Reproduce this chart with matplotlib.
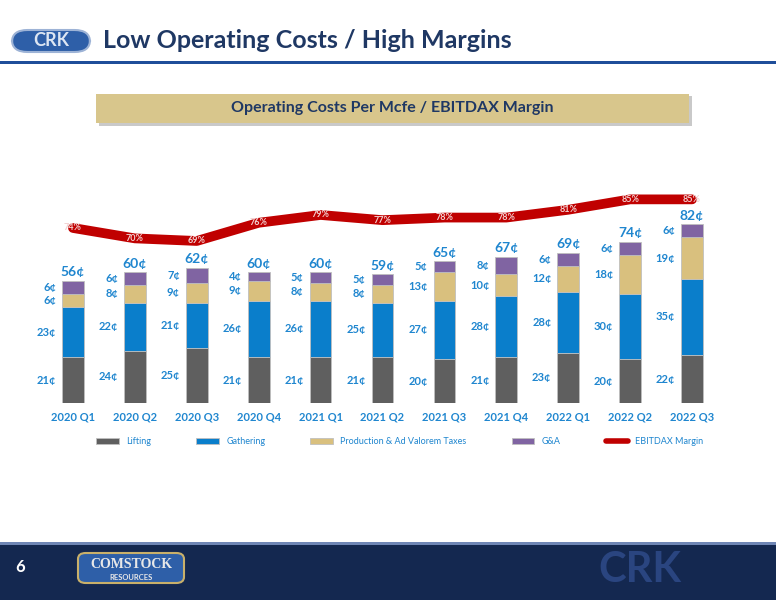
import matplotlib
matplotlib.use("Agg")
import matplotlib.pyplot as plt
from matplotlib.patches import Rectangle, FancyBboxPatch
import numpy as np

plt.rcParams['font.family'] = ['Lato', 'DejaVu Sans']

categories = ["2020 Q1","2020 Q2","2020 Q3","2020 Q4","2021 Q1","2021 Q2","2021 Q3","2021 Q4","2022 Q1","2022 Q2","2022 Q3"]
lifting = [21,24,25,21,21,21,20,21,23,20,22]
gathering = [23,22,21,26,26,25,27,28,28,30,35]
taxes = [6,8,9,9,8,8,13,10,12,18,19]
gna = [6,6,7,4,5,5,5,8,6,6,6]
totals = [56,60,62,60,60,59,65,67,69,74,82]
margin = [74,70,69,76,79,77,78,78,81,85,85]

W, H = 776, 600
fig = plt.figure(figsize=(W/100, H/100), dpi=100)
fig.patch.set_facecolor("white")

def fx(px): return px / W
def fy(py): return 1 - py / H

blue_txt = "#1F86CF"
navy = "#1F3864"

# header
fig.text(fx(103), fy(41), "Low Operating Costs / High Margins", fontsize=18, fontweight="bold",
         color=navy, va="center", ha="left")
logo = FancyBboxPatch((fx(12), fy(52)), fx(78), fy(30)-fy(52), boxstyle="round,pad=0,rounding_size=0.02",
                      transform=fig.transFigure, facecolor="#2E5FA8", edgecolor="#9DB3D6", lw=1.5)
fig.patches.append(logo)
fig.text(fx(51), fy(41), "CRK", fontsize=13, fontweight="bold", color="#DDE6F3", ha="center", va="center")
fig.patches.append(Rectangle((0, fy(64)), 1, fy(61)-fy(64), transform=fig.transFigure, facecolor="#1F4E9A", edgecolor="none"))

# subtitle box
fig.patches.append(Rectangle((fx(99), fy(126)), fx(593), fy(96)-fy(126), transform=fig.transFigure,
                             facecolor="#A6A6A6", edgecolor="none", alpha=0.6))
fig.patches.append(Rectangle((fx(96), fy(123)), fx(593), fy(94)-fy(123), transform=fig.transFigure,
                             facecolor="#D8C68C", edgecolor="none"))
fig.text(fx(392), fy(108), "Operating Costs Per Mcfe / EBITDAX Margin", fontsize=11.5, fontweight="bold",
         color=navy, ha="center", va="center")

# footer
fig.patches.append(Rectangle((0, 0), 1, fy(543), transform=fig.transFigure, facecolor="#142850", edgecolor="none"))
fig.patches.append(Rectangle((0, fy(545)), 1, fy(542)-fy(545), transform=fig.transFigure, facecolor="#6F86B5", edgecolor="none"))
fig.text(fx(20), fy(567), "6", fontsize=12, fontweight="bold", color="white", ha="center", va="center")
fb = FancyBboxPatch((fx(78), fy(583)), fx(106), fy(553)-fy(583), boxstyle="round,pad=0,rounding_size=0.01",
                    transform=fig.transFigure, facecolor="#2E5FA8", edgecolor="#C9B06A", lw=1.5)
fig.patches.append(fb)
fig.text(fx(131), fy(565), "COMSTOCK", fontsize=10, fontweight="bold", color="#E8E8E8", ha="center", va="center", family="Liberation Serif")
fig.text(fx(131), fy(577), "RESOURCES", fontsize=5.5, fontweight="bold", color="#E8E8E8", ha="center", va="center")
fig.text(fx(640), fy(570), "CRK", fontsize=30, fontweight="bold", color="#2A4580", ha="center", va="center")

# main chart
ax = fig.add_axes([fx(42), fy(403), fx(681), fy(190)-fy(403)])
ax.set_xlim(-0.5, 10.5)
ax.set_ylim(0, 97.7)
x = np.arange(len(categories))
bw = 0.35
cols = ["#5F5F5F", "#0A7ECB", "#D9C07E", "#8064A2"]
series = [lifting, gathering, taxes, gna]
names = ["Lifting", "Gathering", "Production & Ad Valorem Taxes", "G&A"]
bottom = np.zeros(len(x))
for s, c, n in zip(series, cols, names):
    s = np.array(s)
    ax.bar(x, s, bw, bottom=bottom, color=c, edgecolor="#BFBFBF", linewidth=0.6, label=n)
    for i in range(len(x)):
        ax.text(x[i] - 0.27, bottom[i] + s[i] / 2, f"{s[i]}¢", color=blue_txt, fontsize=8,
                fontweight="bold", ha="right", va="center")
    bottom += s
for i in range(len(x)):
    ax.text(x[i], totals[i] + 1.2, f"{totals[i]}¢", color=blue_txt, fontsize=10, fontweight="bold",
            ha="center", va="bottom")
ax.set_xticks(x)
ax.set_xticklabels(categories, fontsize=8, fontweight="bold", color=blue_txt)
ax.tick_params(length=0, pad=6)
ax.set_yticks([])
for sp in ax.spines.values():
    sp.set_visible(False)
ax.patch.set_alpha(0)

ax2 = ax.twinx()
ax2.set_ylim(6.7, 88.6)
ax2.set_position(ax.get_position())
ln, = ax2.plot(x, margin, color="#C00000", lw=7, solid_capstyle="round", solid_joinstyle="round", label="EBITDAX Margin")
for i in range(len(x)):
    ax2.text(x[i], margin[i], f"{margin[i]}%", color="#F2D0D0", fontsize=6.5, fontweight="bold",
             ha="center", va="center")
ax2.set_yticks([])
for sp in ax2.spines.values():
    sp.set_visible(False)

h1, l1 = ax.get_legend_handles_labels()
leg = fig.legend(h1 + [ln], l1 + ["EBITDAX Margin"], loc="center", bbox_to_anchor=(fx(400), fy(442)),
                 ncol=5, frameon=False, fontsize=6.5, handlelength=2.5, handleheight=0.6, columnspacing=5)
for t in leg.get_texts():
    t.set_color(blue_txt)
leg.legend_handles[-1].set_linewidth(4)

fig.savefig("out.png", dpi=100)
